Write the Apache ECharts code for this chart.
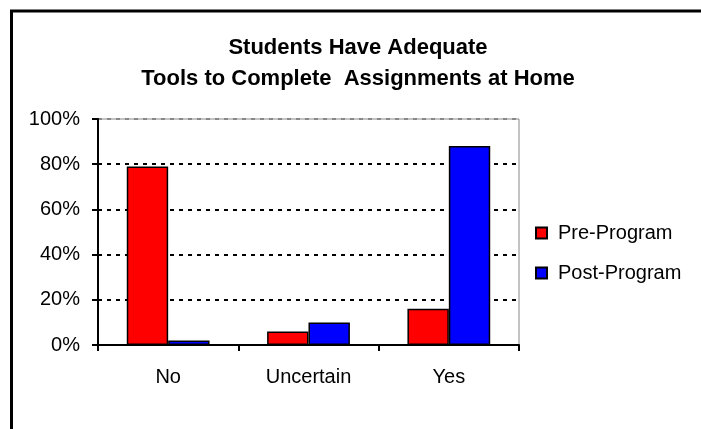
<!DOCTYPE html>
<html>
<head>
<meta charset="utf-8">
<script src="https://cdn.jsdelivr.net/npm/echarts@6/dist/echarts.min.js"></script>
<style>
  html, body { margin: 0; padding: 0; background: #fff; }
  #chart { width: 701px; height: 429px; }
</style>
</head>
<body>
<div id="chart"></div>
<script>
// chart data
const categories = ['No', 'Uncertain', 'Yes']
const seriesNames = ['Pre-Program', 'Post-Program']
const preProgram = [79, 6, 16]
const postProgram = [2, 10, 88]
const yTicks = [0, 20, 40, 60, 80, 100]

const font = '"Liberation Sans", Arial, sans-serif'

const chart = echarts.init(document.getElementById('chart'), null, { renderer: 'canvas' })
chart.setOption({
  animation: false,
  backgroundColor: '#fff',
  title: {
    text: 'Students Have Adequate\nTools to Complete  Assignments at Home',
    left: 358,
    top: 32,
    padding: 0,
    textAlign: 'center',
    textStyle: {
      fontFamily: font,
      fontSize: 22,
      fontWeight: 'bold',
      color: '#000',
      lineHeight: 31
    }
  },
  // outer chart-area border, runs off the right and bottom of the picture
  graphic: [{
    type: 'rect',
    shape: { x: 11.5, y: 11, width: 800, height: 500 },
    style: { fill: null, stroke: '#000', lineWidth: 3 },
    silent: true
  }],
  legend: {
    orient: 'vertical',
    left: 535,
    top: 223,
    padding: 0,
    itemWidth: 11,
    itemHeight: 11,
    itemGap: 20,
    icon: 'rect',
    data: seriesNames,
    textStyle: {
      fontFamily: font,
      fontSize: 20,
      lineHeight: 20,
      color: '#000',
      padding: [0, 0, 0, 6]
    }
  },
  grid: {
    left: 98,
    right: 182,
    top: 119,
    bottom: 84,
    show: true,
    borderColor: '#888',
    borderWidth: 1,
    backgroundColor: '#fff'
  },
  xAxis: {
    type: 'category',
    data: categories,
    axisLine: { lineStyle: { color: '#000', width: 2 } },
    axisTick: { show: true, length: 6, lineStyle: { color: '#000', width: 2 } },
    axisLabel: {
      fontFamily: font,
      fontSize: 20,
      color: '#000',
      margin: 22
    }
  },
  yAxis: {
    type: 'value',
    min: yTicks[0],
    max: yTicks[yTicks.length - 1],
    interval: yTicks[1] - yTicks[0],
    axisLine: { show: true, lineStyle: { color: '#000', width: 2 } },
    axisTick: { show: true, length: 6, lineStyle: { color: '#000', width: 2 } },
    axisLabel: {
      fontFamily: font,
      fontSize: 20,
      color: '#000',
      margin: 18,
      formatter: '{value}%'
    },
    splitLine: {
      show: true,
      lineStyle: {
        color: ['#000', '#000', '#000', '#000', '#000', '#888'],
        width: 2,
        type: [4, 5]
      }
    }
  },
  series: [{
    name: seriesNames[0],
    type: 'bar',
    data: preProgram,
    barGap: '0%',
    barCategoryGap: '41%',
    itemStyle: { color: '#ff0000', borderColor: '#000', borderWidth: 1.5 }
  }, {
    name: seriesNames[1],
    type: 'bar',
    data: postProgram,
    barGap: '0%',
    barCategoryGap: '41%',
    itemStyle: { color: '#0000ff', borderColor: '#000', borderWidth: 1.5 }
  }]
})
</script>
</body>
</html>
